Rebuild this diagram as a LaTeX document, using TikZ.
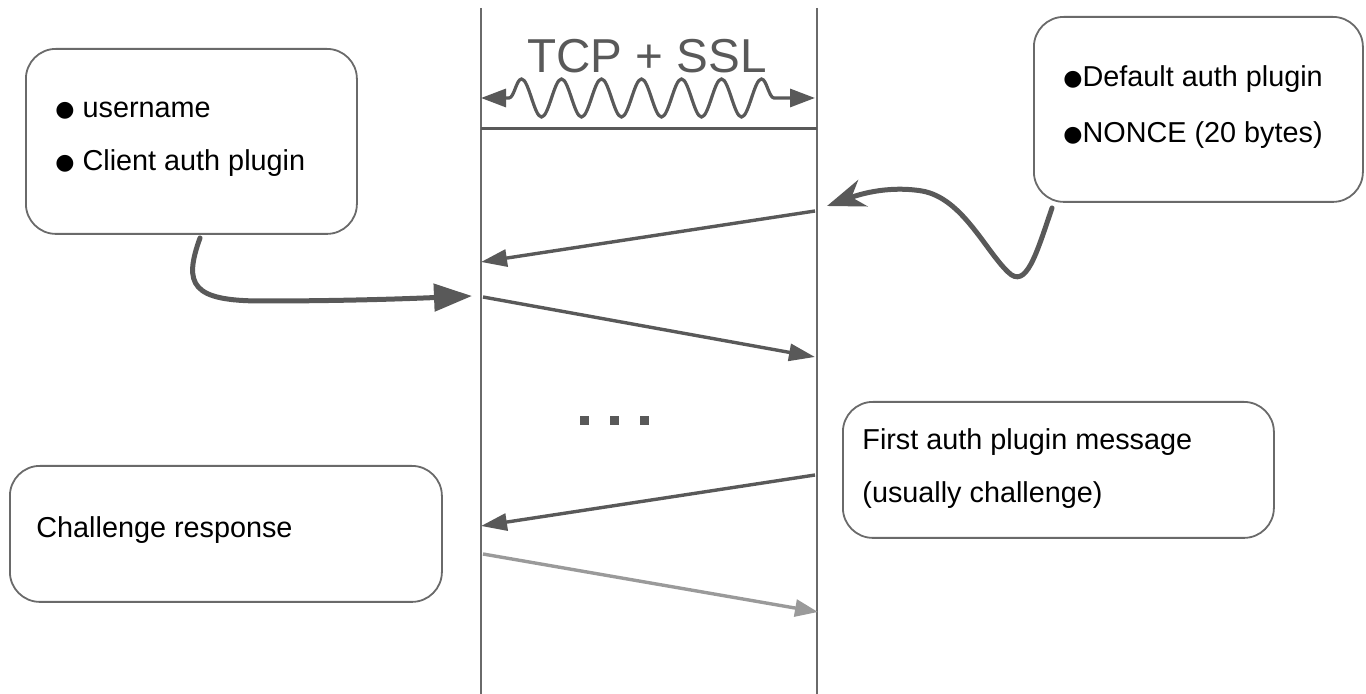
\documentclass[tikz,border=0pt]{standalone}
\usepackage{fontspec}
\setmainfont{Liberation Sans}
\newfontfamily\symfont{DejaVu Sans}
\usetikzlibrary{arrows.meta,decorations.pathmorphing}
\definecolor{ink}{HTML}{595959}
\definecolor{pale}{HTML}{9A9A9A}
\definecolor{frame}{HTML}{6A6A6A}
\newcommand{\blt}{\raisebox{0.5pt}{\symfont\fontsize{11}{12}\selectfont ●}}
\begin{document}
\begin{tikzpicture}[x=0.5pt,y=-0.5pt,
  lifeline/.style={draw=frame,line width=1pt},
  card/.style={draw=frame,line width=0.9pt,rounded corners=15pt,inner sep=0pt,anchor=north west},
  label/.style={anchor=base west,inner sep=0pt,font=\fontsize{14.4}{17}\selectfont,text=black},
  msg/.style={draw=ink,line width=1.7pt,-{Triangle[length=13pt,width=8.5pt]}},
  faintmsg/.style={draw=pale,line width=1.7pt,-{Triangle[length=11.5pt,width=8.5pt]}},
  pointer/.style={draw=ink,line width=2.5pt,line cap=round},
  dotmark/.style={fill=ink,inner sep=0pt,minimum size=4.5pt}
]
\useasboundingbox (0,0) rectangle (1366,694);

% lifelines of client and server
\coordinate (ctop) at (481,8);
\coordinate (cbot) at (481,694);
\coordinate (stop) at (817,8);
\coordinate (sbot) at (817,694);
\draw[lifeline] (ctop) -- (cbot);
\draw[lifeline] (stop) -- (sbot);

% connection setup band
\node[font=\fontsize{23.8}{28}\selectfont,text=ink,anchor=base,inner sep=0pt] (tcp) at (647,73) {TCP + SSL};
\coordinate (wl) at (481,98);
\coordinate (wr) at (815,98);
\draw[draw=ink,line width=1.6pt,{Triangle[length=12.5pt,width=9pt]}-{Triangle[length=12.5pt,width=9pt]},
      decorate,decoration={snake,segment length=20pt,amplitude=9.5pt,pre length=14pt,post length=14pt}]
      (wl) -- (wr);
\coordinate (hl) at (481,129);
\coordinate (hr) at (817,129);
\draw[draw=ink,line width=1.5pt] (hl) -- (hr);

% client side notes
\node[card,minimum width=165.5pt,minimum height=92.5pt] (client) at (25,48) {};
\node[label] (cl1) at (55,118) {\blt\ username};
\node[label] (cl2) at (55,171) {\blt\ Client auth plugin};

\node[card,minimum width=216pt,minimum height=68pt] (resp) at (9,465) {};
\node[label] (rs1) at (36,538) {Challenge response};

% server side notes
\node[card,minimum width=164.5pt,minimum height=92.5pt] (server) at (1033,16) {};
\node[label] (sv1) at (1063,87) {\blt Default auth plugin};
\node[label] (sv2) at (1063,143) {\blt NONCE (20 bytes)};

\node[card,minimum width=215.5pt,minimum height=68pt] (first) at (842,401) {};
\node[label] (fa1) at (862,450) {First auth plugin message};
\node[label] (fa2) at (862,503) {(usually challenge)};

% messages
\coordinate (m1a) at (815,211);
\coordinate (m1b) at (481,262);
\coordinate (m2a) at (483,297);
\coordinate (m2b) at (815,357);
\coordinate (m3a) at (815,475);
\coordinate (m3b) at (481,526);
\coordinate (m4a) at (483,554);
\coordinate (m4b) at (818,612);
\draw[msg] (m1a) -- (m1b);
\draw[msg] (m2a) -- (m2b);
\draw[msg] (m3a) -- (m3b);
\draw[faintmsg] (m4a) -- (m4b);

% ellipsis between exchanges
\node[dotmark] (d1) at (584.5,420.5) {};
\node[dotmark] (d2) at (614.5,420.5) {};
\node[dotmark] (d3) at (644.5,420.5) {};

% pointers from the notes to the messages
\coordinate (cp) at (200,238);
\coordinate (cpend) at (472,296);
\draw[pointer,-{Triangle[length=19pt,width=13.5pt]}]
  (cp) .. controls (183,285) and (192,301) .. (262,301)
       .. controls (340,301) and (400,299) .. (cpend);

\coordinate (sp) at (1052,208);
\coordinate (spend) at (827,206);
\draw[pointer,-{Stealth[length=19pt,width=14pt,inset=6pt]}]
  (sp) .. controls (1036,255) and (1026,290) .. (1008,272)
       .. controls (985,250) and (962,198) .. (922,191)
       .. controls (885,185) and (855,196) .. (spend);
\end{tikzpicture}
\end{document}
